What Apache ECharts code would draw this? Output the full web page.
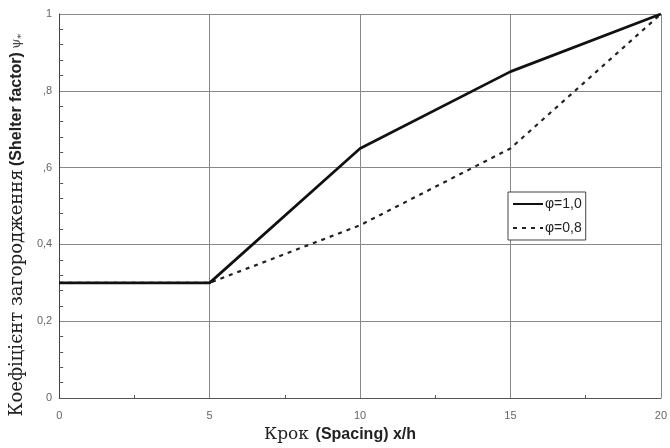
<!DOCTYPE html>
<html>
<head>
<meta charset="utf-8">
<script src="https://cdn.jsdelivr.net/npm/echarts@6/dist/echarts.min.js"></script>
<style>html,body{margin:0;padding:0;background:#fff;}#c{width:670px;height:448px;}</style>
</head>
<body>
<div id="c"></div>
<script>
var xValues = [0, 5, 10, 15, 20];
var solidValues = [0.3, 0.3, 0.65, 0.85, 1.0];
var dashedValues = [0.3, 0.3, 0.45, 0.65, 1.0];
var seriesNames = ['φ=1,0', 'φ=0,8'];
var yTickValues = [0, 0.2, 0.4, 0.6, 0.8, 1];
var yTickLabels = ['0', '0,2', '0,4', ',6', ',8', '1'];
var xTickLabels = ['0', '5', '10', '15', '20'];

function pairs(xs, ys) { return xs.map(function (x, i) { return [x, ys[i]]; }); }

var chart = echarts.init(document.getElementById('c'), null, { renderer: 'canvas' });
chart.setOption({
  animation: false,
  backgroundColor: '#fff',
  grid: { left: 57, right: 5, top: 14, bottom: 48, show: false },
  legend: {
    orient: 'vertical',
    left: 508, top: 192,
    padding: [5, 4, 5, 4],
    itemGap: 10,
    itemWidth: 30,
    itemHeight: 12,
    backgroundColor: '#fff',
    borderColor: '#444',
    borderWidth: 1,
    borderRadius: 0,
    itemStyle: { opacity: 0 },
    textStyle: { fontFamily: 'Liberation Sans', fontSize: 14, color: '#222', padding: [0, 0, 0, -3] },
    data: seriesNames
  },
  xAxis: {
    type: 'value', min: 0, max: 20, interval: 5,
    axisLine: { show: true, lineStyle: { color: '#555', width: 1 } },
    axisTick: { show: false, inside: true },
    minorTick: { show: true, splitNumber: 2, length: 3, lineStyle: { color: '#555' } },
    splitLine: { show: true, lineStyle: { color: '#888', width: 1 } },
    axisLabel: {
      margin: 12, color: '#666', fontFamily: 'Liberation Sans', fontSize: 11,
      formatter: function (v) { return xTickLabels[xValues.indexOf(v)]; }
    },
    name: '{a|Крок}  {b|(Spacing) x/h}',
    nameLocation: 'middle',
    nameGap: 25,
    nameTextStyle: {
      padding: [0, 40, 0, 0],
      rich: {
        a: { fontFamily: 'DejaVu Serif', fontSize: 17, color: '#222' },
        b: { fontFamily: 'Liberation Sans', fontWeight: 'bold', fontSize: 16, color: '#222' }
      }
    }
  },
  yAxis: {
    type: 'value', min: 0, max: 1, interval: 0.2,
    axisLine: { show: true, lineStyle: { color: '#444', width: 1 } },
    axisTick: { show: false, inside: true },
    minorTick: { show: true, splitNumber: 5, length: 4, lineStyle: { color: '#555' } },
    splitLine: { show: true, lineStyle: { color: '#888', width: 1 } },
    axisLabel: {
      margin: 7, color: '#666', fontFamily: 'Liberation Sans', fontSize: 11,
      formatter: function (v) {
        for (var i = 0; i < yTickValues.length; i++) { if (Math.abs(yTickValues[i] - v) < 1e-6) return yTickLabels[i]; }
        return '';
      }
    },
    name: '{a|Коефіцієнт загородження} {b|(Shelter factor)} {c|ψ}{d|*}',
    nameLocation: 'middle',
    nameRotate: 90,
    nameGap: 31,
    nameTextStyle: {
      padding: [0, 38, 0, 0],
      rich: {
        a: { fontFamily: 'DejaVu Serif', fontSize: 18, color: '#222' },
        b: { fontFamily: 'Liberation Sans', fontWeight: 'bold', fontSize: 16, color: '#222' },
        c: { fontFamily: 'DejaVu Serif', fontSize: 13, color: '#444' },
        d: { fontFamily: 'DejaVu Serif', fontSize: 10, color: '#444', verticalAlign: 'bottom' }
      }
    }
  },
  series: [
    {
      name: seriesNames[0], type: 'line', symbol: 'none',
      data: pairs(xValues, solidValues),
      lineStyle: { color: '#111', width: 2.7, type: 'solid' },
      itemStyle: { color: '#111' },
      z: 3
    },
    {
      name: seriesNames[1], type: 'line', symbol: 'none',
      data: pairs(xValues, dashedValues),
      lineStyle: { color: '#222', width: 2.2, type: [4, 5] },
      itemStyle: { color: '#222' },
      z: 2
    }
  ]
});
</script>
</body>
</html>
